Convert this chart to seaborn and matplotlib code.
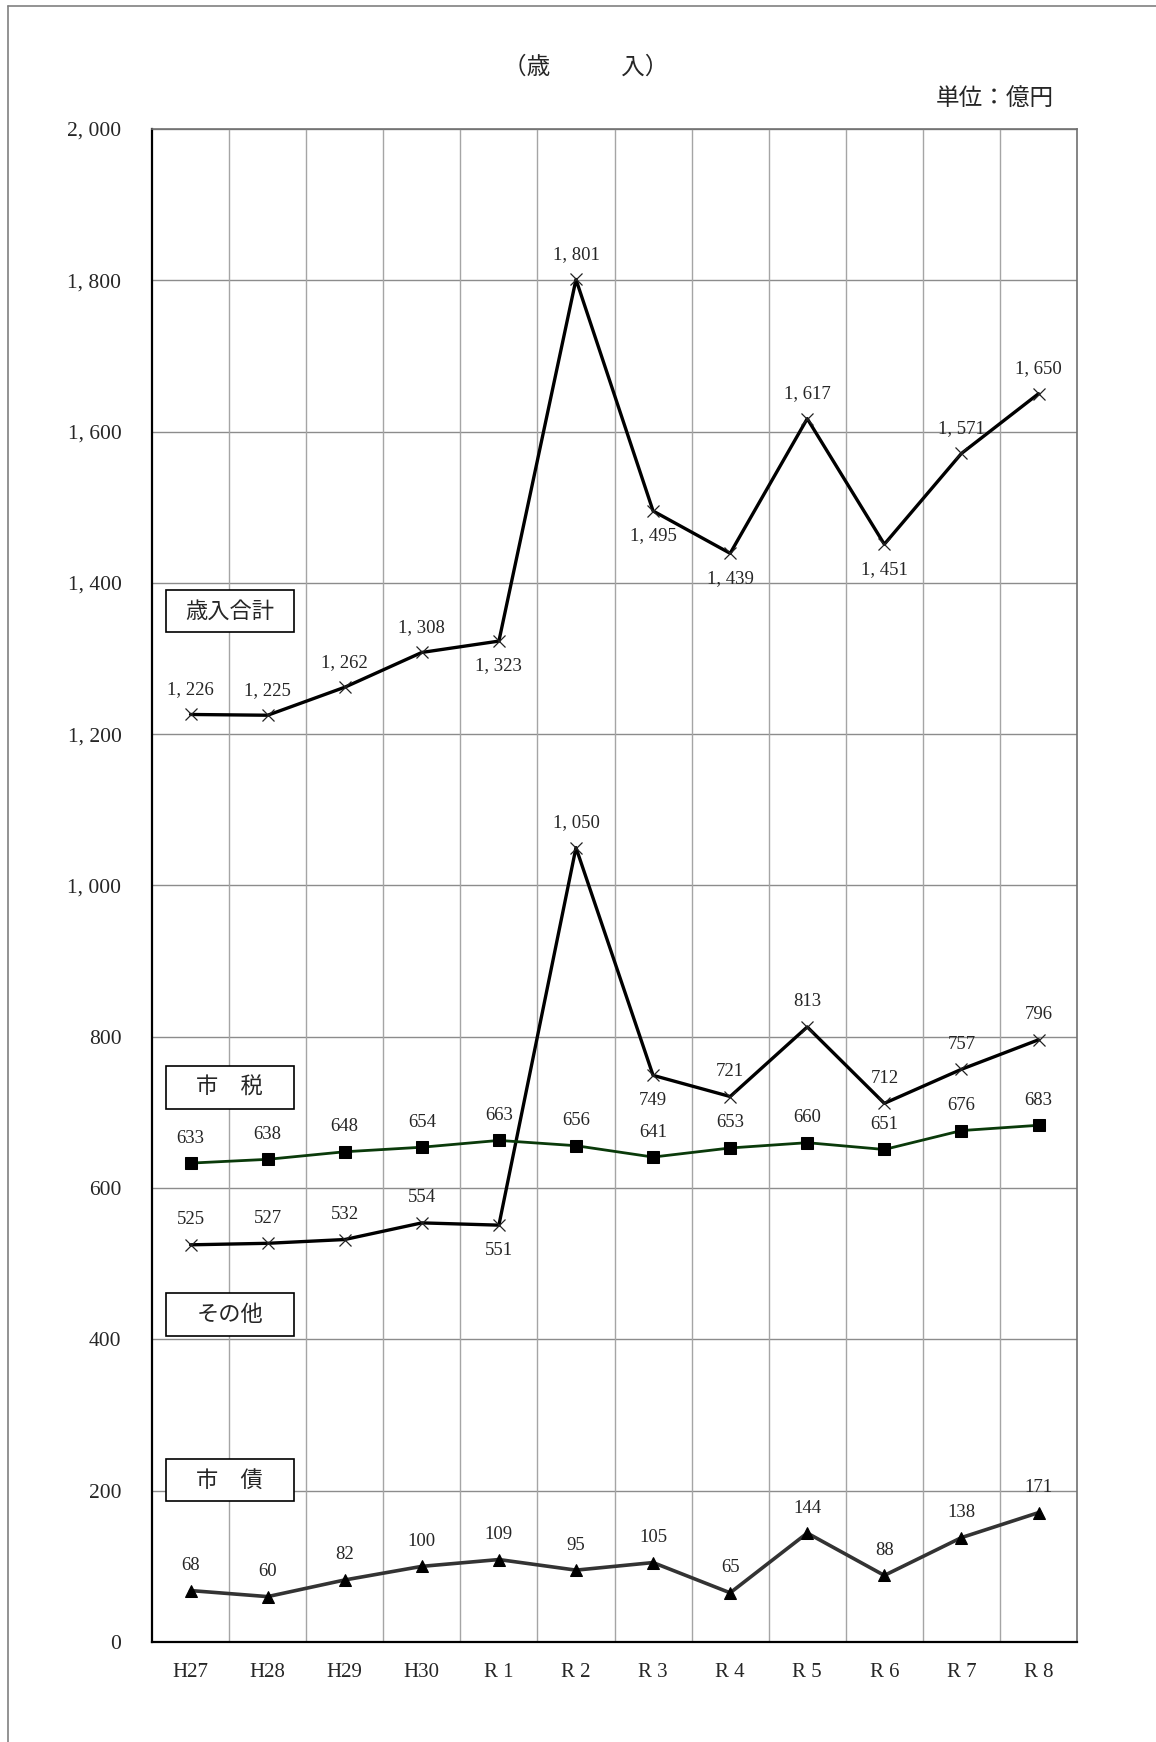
import seaborn as sns
import pandas as pd
import matplotlib.pyplot as plt
from matplotlib.patches import Rectangle
from matplotlib.lines import Line2D

# data (億円)
years = ["H27", "H28", "H29", "H30", "R 1", "R 2", "R 3", "R 4", "R 5", "R 6", "R 7", "R 8"]
total = [1226, 1225, 1262, 1308, 1323, 1801, 1495, 1439, 1617, 1451, 1571, 1650]
city_tax = [633, 638, 648, 654, 663, 656, 641, 653, 660, 651, 676, 683]
other = [525, 527, 532, 554, 551, 1050, 749, 721, 813, 712, 757, 796]
bonds = [68, 60, 82, 100, 109, 95, 105, 65, 144, 88, 138, 171]

# where the value label sits: 'a' above, 'b' below
total_pos = ["a", "a", "a", "a", "b", "a", "b", "b", "a", "b", "a", "a"]
tax_pos = ["a"] * 12
other_pos = ["a", "a", "a", "a", "b", "a", "b", "a", "a", "a", "a", "a"]
bonds_pos = ["a"] * 12

yticks = list(range(0, 2001, 200))

sns.set_style("white")
plt.rcParams["font.family"] = ["Liberation Serif", "Noto Sans CJK JP", "DejaVu Sans"]
CJK = ["Noto Sans CJK JP", "DejaVu Sans"]


def fmt(v):
    return f"{v:,}".replace(",", ", ")


fig = plt.figure(figsize=(11.56, 17.42), dpi=100)
ax = fig.add_axes([0.1315, 0.0574, 0.8002, 0.8686])

xs = list(range(len(years)))
df = pd.DataFrame({"x": xs, "total": total, "tax": city_tax, "other": other, "bonds": bonds})

series = [
    ("total", total_pos, dict(color="black", lw=2.4, marker="x", ms=9, mew=0.9, mec="#222222")),
    ("other", other_pos, dict(color="black", lw=2.4, marker="x", ms=9, mew=0.9, mec="#222222")),
    ("tax", tax_pos, dict(color="#0a3a0a", lw=2.0, marker="s", ms=8, mec="black", mfc="black")),
    ("bonds", bonds_pos, dict(color="#333333", lw=2.6, marker="^", ms=8, mec="black", mfc="black")),
]

for col, pos, style in series:
    sns.lineplot(data=df, x="x", y=col, ax=ax, zorder=4, **style)
    for x, v, p in zip(xs, df[col], pos):
        off = 18 if p == "a" else -18
        ax.annotate(fmt(v), (x, v), xytext=(0, off), textcoords="offset points",
                    ha="center", va="center", fontsize=13.5, zorder=5)

ax.set_xlim(-0.5, len(years) - 0.5)
ax.set_ylim(0, 2000)
ax.set_yticks(yticks)
ax.set_yticklabels([fmt(v) for v in yticks], fontsize=15.5)
ax.set_xticks(xs)
ax.set_xticklabels(years, fontsize=15)
ax.set_xlabel("")
ax.set_ylabel("")
ax.tick_params(axis="x", length=0, pad=15)
ax.tick_params(axis="y", length=0, pad=22)

ax.grid(False)
for y in yticks[1:]:
    ax.axhline(y, color="#8c8c8c", lw=1.0, zorder=1)
for x in range(len(years) - 1):
    ax.axvline(x + 0.5, color="#a5a5a5", lw=1.0, zorder=1)

for s in ["left", "bottom"]:
    ax.spines[s].set_color("black")
    ax.spines[s].set_linewidth(1.6)
for s in ["top", "right"]:
    ax.spines[s].set_color("#707070")
    ax.spines[s].set_linewidth(1.2)

# series name boxes
boxes = [("歳入合計", 1363), ("市　税", 733), ("その他", 433), ("市　債", 214)]
for name, yc in boxes:
    ax.add_patch(Rectangle((-0.32, yc - 28), 1.66, 56, fc="white", ec="black", lw=1.2, zorder=3))
    ax.text(0.51, yc, name, ha="center", va="center", fontsize=16, family=CJK, zorder=4)

fig.text(0.507, 0.9615, "（歳　　　入）", ha="center", va="center", fontsize=17, family=CJK)
fig.text(0.912, 0.943, "単位：億円", ha="right", va="center", fontsize=17, family=CJK)

# page frame
fig.add_artist(Line2D([8 / 1156, 8 / 1156], [0, 1 - 6 / 1742], transform=fig.transFigure, color="#808080", lw=1.2))
fig.add_artist(Line2D([8 / 1156, 1], [1 - 6 / 1742, 1 - 6 / 1742], transform=fig.transFigure, color="#808080", lw=1.2))

fig.savefig("out.png", dpi=100)
